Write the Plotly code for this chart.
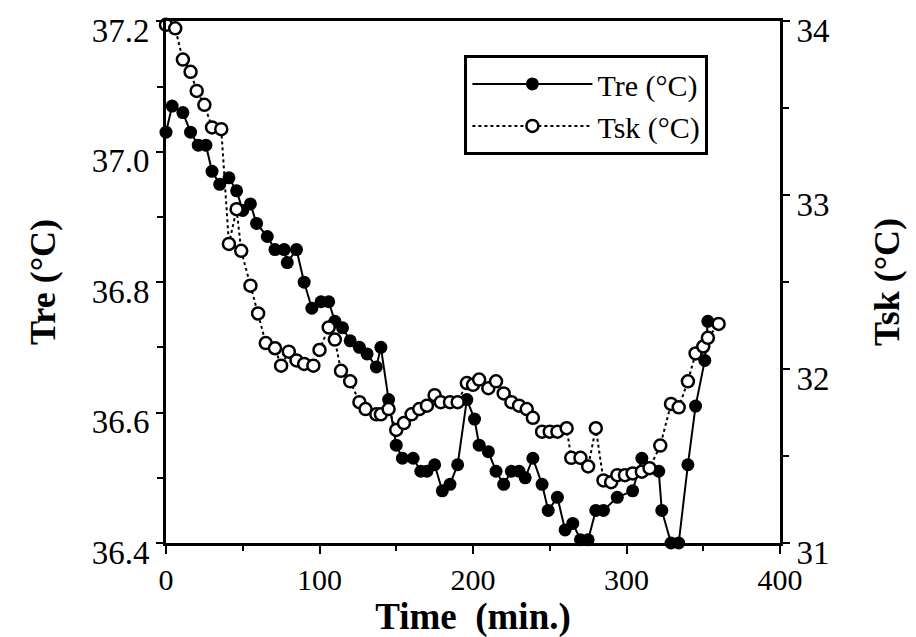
import plotly.graph_objects as go

tre_time = [0, 4, 11, 16, 21, 26, 30, 35, 41, 46,
            50, 55, 59, 66, 71, 77, 79, 85, 90, 95,
            101, 106, 110, 115, 120, 126, 131, 137, 140, 145,
            150, 154, 161, 166, 170, 175, 180, 185, 190, 196,
            201, 204, 210, 215, 220, 225, 230, 234, 239, 245,
            249, 255, 260, 265, 270, 275, 280, 285, 294, 304,
            310, 321, 323, 329, 334, 340, 345, 351, 353]
tre_vals = [37.03, 37.07, 37.06, 37.03, 37.01, 37.01, 36.97, 36.95, 36.96, 36.94,
            36.91, 36.92, 36.89, 36.87, 36.85, 36.85, 36.83, 36.85, 36.80, 36.76,
            36.77, 36.77, 36.74, 36.73, 36.71, 36.70, 36.69, 36.67, 36.70, 36.62,
            36.55, 36.53, 36.53, 36.51, 36.51, 36.52, 36.48, 36.49, 36.52, 36.62,
            36.59, 36.55, 36.54, 36.51, 36.49, 36.51, 36.51, 36.50, 36.53, 36.49,
            36.45, 36.47, 36.42, 36.43, 36.405, 36.405, 36.45, 36.45, 36.47, 36.48,
            36.53, 36.51, 36.45, 36.40, 36.40, 36.52, 36.61, 36.68, 36.74]

tsk_time = [0, 6, 11, 16, 20, 25, 30, 36, 41, 46,
            49, 55, 60, 65, 71, 75, 80, 85, 90, 96,
            100, 106, 110, 114, 120, 126, 130, 137, 140, 145,
            150, 155, 160, 165, 170, 175, 179, 185, 190, 196,
            200, 204, 210, 215, 220, 225, 230, 235, 239, 245,
            250, 255, 261, 264, 270, 275, 280, 285, 290, 294,
            299, 304, 310, 315, 322, 329, 334, 340, 345, 350,
            353, 360]
tsk_vals = [33.98, 33.96, 33.78, 33.71, 33.60, 33.52, 33.39, 33.38, 32.72, 32.92,
            32.68, 32.48, 32.32, 32.15, 32.12, 32.02, 32.10, 32.05, 32.03, 32.02,
            32.11, 32.24, 32.17, 31.99, 31.93, 31.81, 31.77, 31.74, 31.74, 31.77,
            31.65, 31.69, 31.74, 31.77, 31.79, 31.85, 31.81, 31.81, 31.81, 31.92,
            31.91, 31.94, 31.89, 31.93, 31.86, 31.81, 31.79, 31.77, 31.72, 31.64,
            31.64, 31.64, 31.66, 31.49, 31.49, 31.44, 31.66, 31.36, 31.35, 31.39,
            31.39, 31.40, 31.41, 31.43, 31.56, 31.80, 31.78, 31.93, 32.09, 32.13,
            32.18, 32.26]

x_ticks = [0, 100, 200, 300, 400]
left_ticks = [36.4, 36.6, 36.8, 37.0, 37.2]
left_labels = ["36.4", "36.6", "36.8", "37.0", "37.2"]
right_ticks = [31, 32, 33, 34]
right_labels = ["31", "32", "33", "34"]

SERIF = "Liberation Serif, Times New Roman, serif"

fig = go.Figure()
fig.add_trace(go.Scatter(
    x=tre_time, y=tre_vals, name="Tre (°C)", mode="lines+markers",
    line=dict(color="black", width=2),
    marker=dict(symbol="circle", size=13, color="black"),
    cliponaxis=False, legendgroup="a"))
fig.add_trace(go.Scatter(
    x=tsk_time, y=tsk_vals, name="Tsk (°C)", mode="lines+markers", yaxis="y2",
    line=dict(color="black", width=2, dash="dot"),
    marker=dict(symbol="circle", size=12, color="white",
                line=dict(color="black", width=2.5)),
    cliponaxis=False, legendgroup="b"))

fig.update_layout(
    width=916, height=637,
    margin=dict(l=158, r=144, t=13, b=102, autoexpand=False),
    paper_bgcolor="white", plot_bgcolor="white",
    font=dict(family=SERIF, color="black"),
    showlegend=True,
    legend=dict(x=0.486, y=0.935, xanchor="left", yanchor="top",
                bordercolor="black", borderwidth=3, bgcolor="white",
                font=dict(family=SERIF, size=30, color="black"),
                itemwidth=120, tracegroupgap=6, traceorder="normal"),
    xaxis=dict(range=[0, 400], tickvals=x_ticks, ticks="outside", ticklen=8,
               tickwidth=2, tickcolor="black", showline=True, linewidth=3,
               linecolor="black", mirror=True, showgrid=False, zeroline=False,
               ticklabeloverflow="allow", automargin=False,
               minor=dict(dtick=50, ticks="outside", ticklen=5, tickwidth=2,
                          tickcolor="black"),
               tickfont=dict(family=SERIF, size=30),
               title=dict(text="<b>Time\u00a0\u00a0(min.)</b>",
                          font=dict(family=SERIF, size=37), standoff=2)),
    yaxis=dict(range=[36.4, 37.2005], tickvals=left_ticks, ticktext=left_labels,
               ticks="outside", ticklen=7, tickwidth=2, tickcolor="black",
               showline=True, linewidth=3, linecolor="black",
               showgrid=False, zeroline=False, ticklabeloverflow="allow",
               automargin=False, ticklabelshift=9,
               minor=dict(dtick=0.1, ticks="outside", ticklen=6, tickwidth=2,
                          tickcolor="black"),
               tickfont=dict(family=SERIF, size=33),
               title=dict(text="<b>Tre (°C)</b>",
                          font=dict(family=SERIF, size=36), standoff=26)),
    yaxis2=dict(range=[31, 34.002], tickvals=right_ticks, ticktext=right_labels,
                overlaying="y", side="right", ticks="outside", ticklen=7,
                tickwidth=2, tickcolor="black", showline=True, linewidth=3,
                linecolor="black", showgrid=False, zeroline=False,
                ticklabeloverflow="allow", automargin=False, ticklabelshift=9,
                minor=dict(dtick=0.5, ticks="outside", ticklen=6, tickwidth=2,
                           tickcolor="black"),
                tickfont=dict(family=SERIF, size=33),
                title=dict(text="<b>Tsk (°C)</b>",
                           font=dict(family=SERIF, size=36), standoff=46)),
)

fig.write_html("out.html")
